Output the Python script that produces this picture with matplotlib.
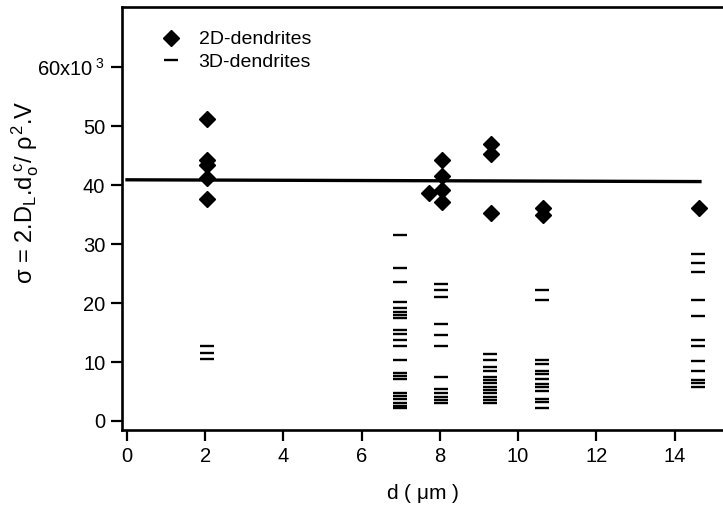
import matplotlib
matplotlib.use("Agg")
import matplotlib.pyplot as plt

plt.rcParams['font.family'] = ['Liberation Sans', 'DejaVu Sans']
plt.rcParams['mathtext.fontset'] = 'custom'
plt.rcParams['mathtext.rm'] = 'Liberation Sans'
plt.rcParams['mathtext.it'] = 'Liberation Sans'
plt.rcParams['mathtext.sf'] = 'Liberation Sans'

# 2D dendrites (diamonds)
d2_x = [2.05, 2.05, 2.05, 2.05, 2.05,
        7.72, 8.05, 8.05, 8.05, 8.05,
        9.3, 9.3, 9.3,
        10.63, 10.63,
        14.62]
d2_y = [51.2, 44.3, 43.4, 41.2, 37.6,
        38.7, 44.3, 41.5, 39.2, 37.2,
        46.9, 45.3, 35.2,
        36.2, 34.9,
        36.2]

# 3D dendrites (dashes), grouped by d
d3_groups = {
    2.05: [12.8, 11.6, 10.5],
    6.98: [31.6, 25.9, 23.6, 20.1, 19.1, 18.5, 18.0, 17.4, 15.4, 14.7,
           13.8, 12.8, 10.3, 8.1, 7.6, 7.2, 4.8, 4.2, 3.7, 3.1, 2.5, 2.15],
    8.03: [23.3, 22.2, 21.0, 16.5, 14.5, 12.7, 7.4, 5.4, 4.8, 4.1, 3.6, 3.1],
    9.28: [11.3, 10.3, 9.2, 8.4, 7.5, 6.9, 6.4, 5.8, 5.3, 4.7, 4.1, 3.6, 3.0],
    10.62: [22.2, 20.6, 10.3, 9.7, 8.5, 8.0, 7.2, 6.3, 5.7, 5.1, 3.8, 3.2, 2.15],
    14.61: [28.3, 26.8, 25.3, 20.6, 17.8, 13.8, 12.8, 10.1, 8.4, 6.9, 6.4, 5.7],
}
d3_x = [x for x, ys in d3_groups.items() for _ in ys]
d3_y = [y for ys in d3_groups.values() for y in ys]

# fitted line
fit_x = [0.0, 14.65]
fit_y = [40.9, 40.6]

yticks = [0, 10, 20, 30, 40, 50, 60]
ytick_labels = ['0', '10', '20', '30', '40', '50', r'60x10$^{\ 3}$']
xticks = [0, 2, 4, 6, 8, 10, 12, 14]

fig = plt.figure(figsize=(7.23, 5.08), dpi=100)
ax = fig.add_axes([0.1687, 0.1535, 0.8313, 0.8327])

ax.plot(fit_x, fit_y, color='black', lw=2.4, zorder=1)
ax.plot(d2_x, d2_y, 'D', color='black', ms=8, ls='none', label='2D-dendrites', zorder=3)
ax.plot(d3_x, d3_y, '_', color='black', ms=9.5, mew=1.7, ls='none', label='3D-dendrites', zorder=2)

ax.set_xlim(-0.128, 15.24)
ax.set_ylim(-1.53, 70.2)
ax.set_xticks(xticks)
ax.set_yticks(yticks)
ax.set_yticklabels(ytick_labels)

for s in ['left', 'bottom', 'top']:
    ax.spines[s].set_linewidth(1.9)
ax.spines['right'].set_visible(False)
ax.tick_params(direction='out', length=8, width=1.6, labelsize=14.5, pad=4)

ax.set_xlabel(r'd ( $\mathrm{\mu}$m )', fontsize=15, labelpad=12)
ax.set_ylabel(r'$\sigma$ = 2.D$_\mathrm{L}$.d$_\mathrm{o}^{\ \mathrm{c}}$/ $\rho^2$.V', fontsize=17)
ax.yaxis.set_label_coords(-0.135, 0.563)

ax.legend(loc='upper left', bbox_to_anchor=(0.037, 0.985), frameon=False,
          fontsize=14, handlelength=1.0, handletextpad=0.9, labelspacing=0.25)

fig.savefig('out.png', dpi=100)
